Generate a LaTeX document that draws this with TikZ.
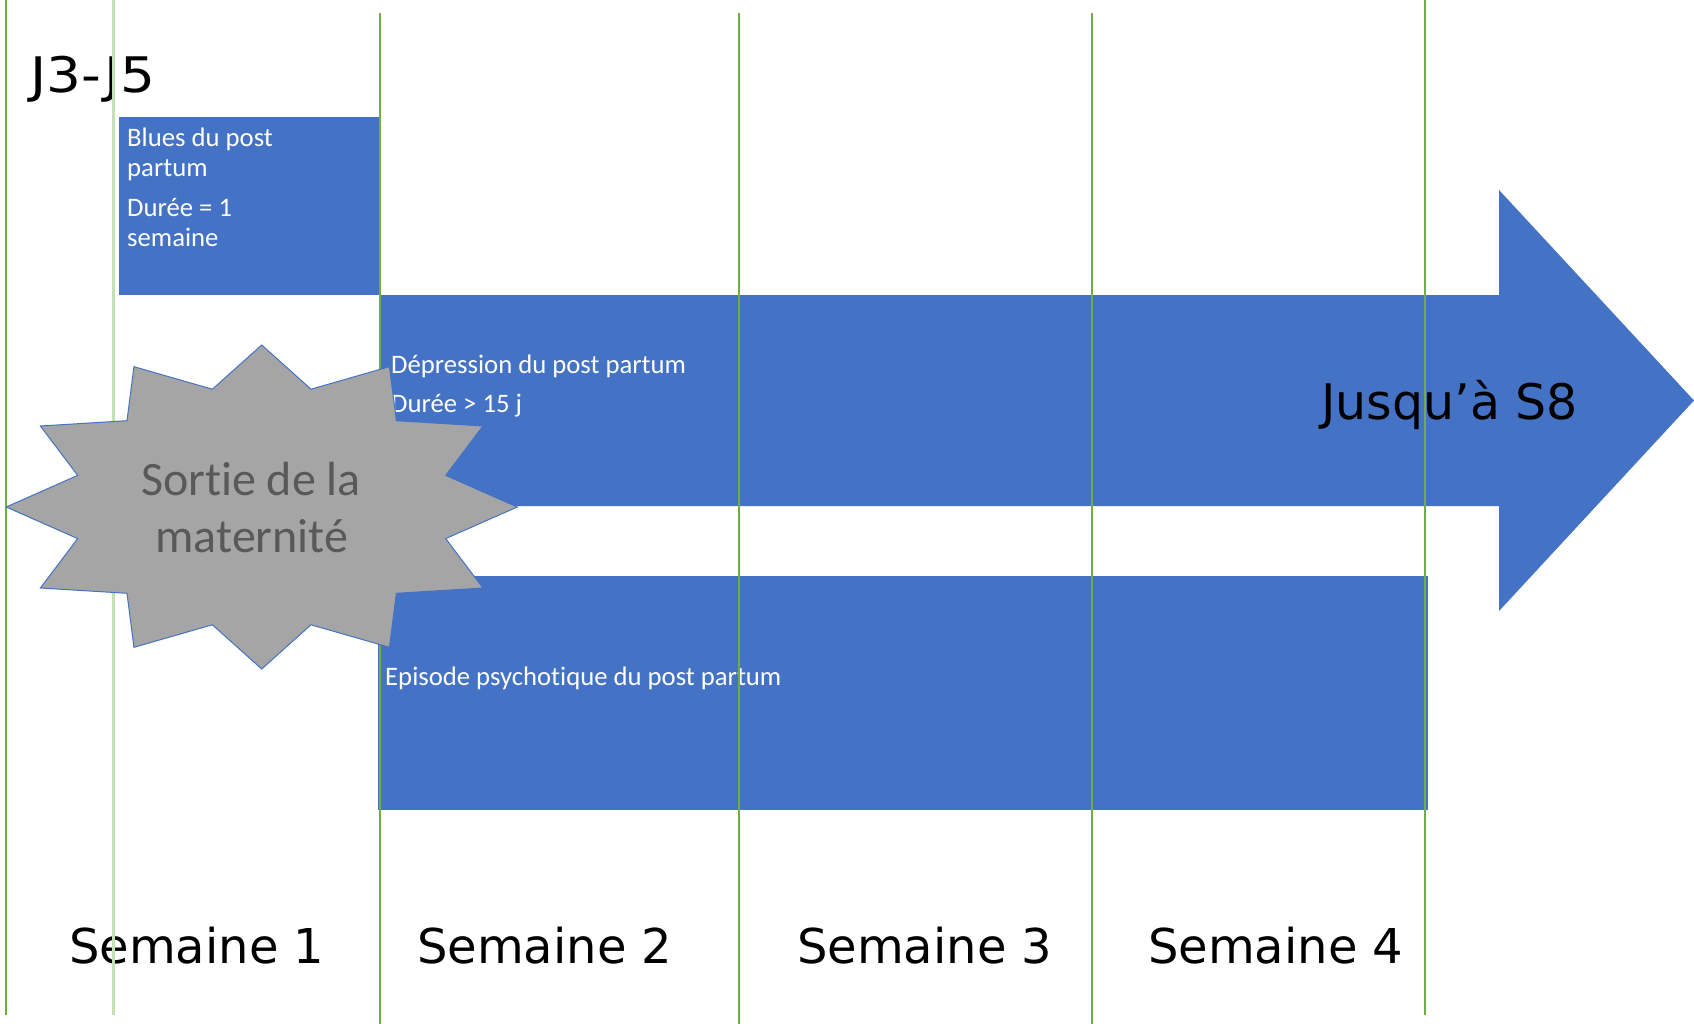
\documentclass[tikz,border=0pt]{standalone}
\usepackage{fontspec}
\setmainfont{Carlito}[Ligatures=NoCommon]
\newfontfamily\verd{DejaVu Sans}
\newfontfamily\verdw{DejaVu Sans}[FakeStretch=1.12]
\definecolor{blueA}{HTML}{4472C4}
\definecolor{greenL}{HTML}{70AD47}
\definecolor{greenP}{HTML}{C5E0B4}
\definecolor{starG}{HTML}{A5A5A5}
\definecolor{txtG}{HTML}{595959}
\tikzset{
  bluebox/.style={fill=blueA, draw=none, inner sep=0pt, outer sep=0pt, anchor=north west},
  boxtext/.style={inner sep=0pt, anchor=base west, text=white, font=\fontsize{26.7}{32}\selectfont},
  bigtext/.style={inner sep=0pt, text=black, font=\verd\fontsize{48}{58}\selectfont},
  startext/.style={inner sep=0pt, anchor=base, text=txtG, font=\fontsize{48}{58}\selectfont},
  gline/.style={draw=greenL, line width=2.8pt},
  pline/.style={draw=greenP, line width=3pt},
  starshape/.style={fill=starG, draw=blueA, line width=1pt, line join=miter}
}
\begin{document}
\begin{tikzpicture}[x=1pt,y=-1pt]
\useasboundingbox (0,0) rectangle (1694,1024);
\fill[white] (0,0) rectangle (1694,1024);

% blue shapes
\node[bluebox, minimum width=261pt, minimum height=178pt] (blues) at (119,117) {};
\fill[blueA] (380,295) -- (1499,295) -- (1499,190) -- (1694,400.5) -- (1499,611) -- (1499,506) -- (380,506) -- cycle;
\node[bluebox, minimum width=1050pt, minimum height=234pt] (psy) at (378,576) {};

% texts in shapes
\node[boxtext] (b1) at (127,147) {Blues du post};
\node[boxtext] (b2) at (127,177) {partum};
\node[boxtext] (b3) at (127,217) {Durée = 1};
\node[boxtext] (b4) at (127,247) {semaine};
\node[boxtext] (d1) at (391,373) {Dépression du post partum};
\node[boxtext] (d2) at (391,412) {Durée > 15 j};
\node[boxtext] (e1) at (385,685) {Episode psychotique du post partum};
\node[bigtext, anchor=base west, font=\verd\fontsize{49}{58}\selectfont] (s8) at (1321,419) {Jusqu’à S8};

% free texts
\node[bigtext, anchor=base west, font=\verdw\fontsize{49}{60}\selectfont] (j35) at (30,93) {J3-J5};
\node[bigtext, anchor=base west] (w1) at (69,963) {Semaine 1};
\node[bigtext, anchor=base west] (w2) at (417,963) {Semaine 2};
\node[bigtext, anchor=base west] (w3) at (797,963) {Semaine 3};
\node[bigtext, anchor=base west] (w4) at (1148,963) {Semaine 4};

% vertical lines
\draw[gline] (6,0) -- (6,1015);
\draw[pline] (113,0) -- (113,1015);
\draw[gline] (380,13) -- (380,1024);
\draw[gline] (739,13) -- (739,1024);
\draw[gline] (1092,13) -- (1092,1024);
\draw[gline] (1425,0) -- (1425,1015);

% star
\draw[starshape] (261.7,345) -- (212.4,389.2) -- (133.95,366.7) -- (127.0,420.7)
  -- (40.4,426) -- (77.7,475.4) -- (6.2,507) -- (77.7,538.6) -- (40.4,588)
  -- (127.0,593.3) -- (133.95,647.3) -- (212.4,624.8) -- (261.7,669)
  -- (311.0,624.8) -- (389.45,647.3) -- (396.4,593.3) -- (483.0,588)
  -- (445.7,538.6) -- (517.2,507) -- (445.7,475.4) -- (483.0,426)
  -- (396.4,420.7) -- (389.45,366.7) -- (311.0,389.2) -- cycle;
\node[startext] (st1) at (251,495) {Sortie de la};
\node[startext] (st2) at (252,552) {maternité};
\end{tikzpicture}
\end{document}
